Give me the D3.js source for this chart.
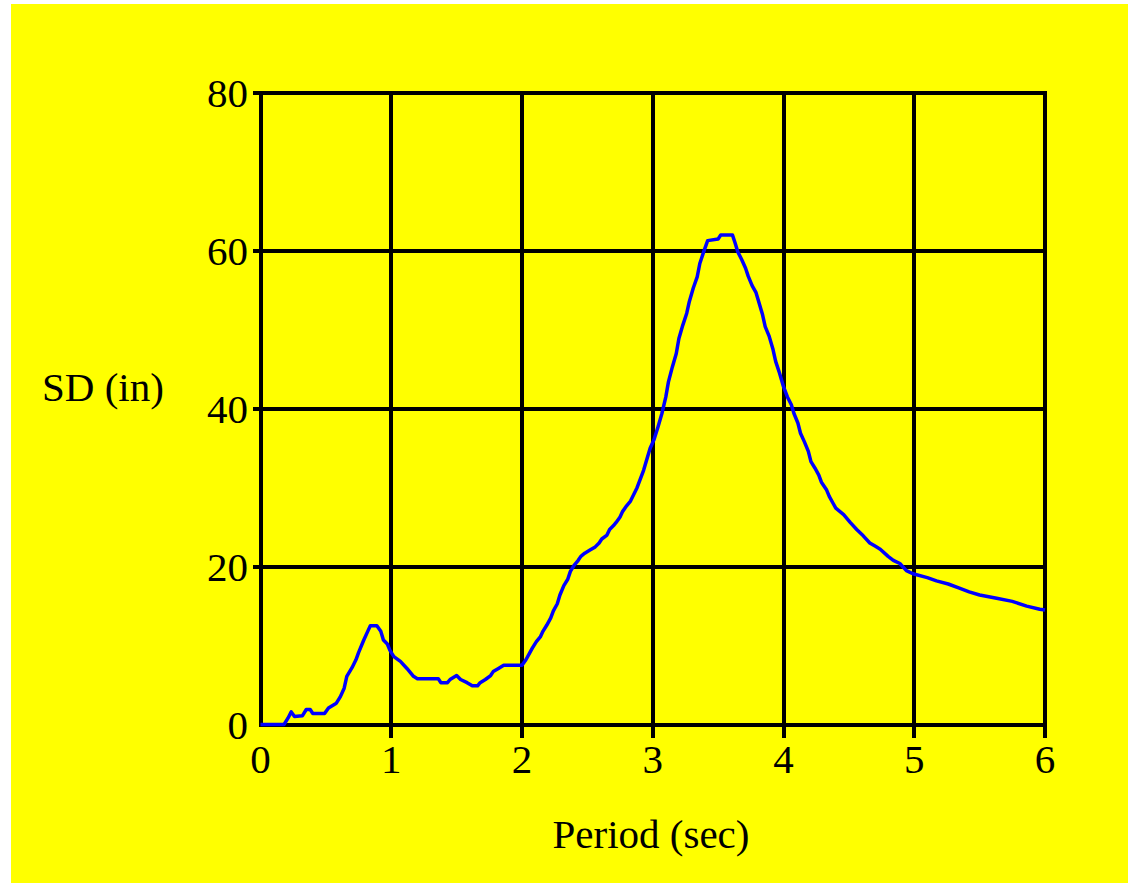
<!DOCTYPE html>
<html>
<head>
<meta charset="utf-8">
<script src="https://cdn.jsdelivr.net/npm/d3@7"></script>
<style>
  body { margin: 0; background: #fff; }
  text { font-family: "Liberation Serif", "Times New Roman", serif; fill: #000; }
</style>
</head>
<body>
<div id="chart"></div>
<script>
// spectral displacement vs period
var periods = [0, 0.18, 0.21, 0.235, 0.26, 0.32, 0.35, 0.38, 0.40, 0.49, 0.52, 0.58, 0.61, 0.64, 0.66, 0.70, 0.73, 0.75, 0.79, 0.82,
    0.84, 0.89, 0.92, 0.94, 0.97, 0.99, 1.02, 1.07, 1.12, 1.17, 1.20, 1.36, 1.38, 1.43, 1.45, 1.50, 1.53, 1.58, 1.62, 1.66,
    1.68, 1.72, 1.76, 1.78, 1.82, 1.86, 2.00, 2.03, 2.06, 2.08, 2.11, 2.14, 2.16, 2.19, 2.22, 2.24, 2.27, 2.29, 2.32, 2.35,
    2.37, 2.40, 2.43, 2.45, 2.48, 2.52, 2.56, 2.59, 2.61, 2.65, 2.67, 2.70, 2.72, 2.75, 2.77, 2.80, 2.83, 2.88, 2.93, 2.98,
    3.01, 3.04, 3.07, 3.10, 3.12, 3.15, 3.18, 3.20, 3.23, 3.26, 3.28, 3.31, 3.34, 3.36, 3.39, 3.42, 3.50, 3.52, 3.61, 3.63,
    3.65, 3.68, 3.71, 3.73, 3.76, 3.79, 3.81, 3.84, 3.86, 3.89, 3.92, 3.94, 3.97, 4.00, 4.03, 4.06, 4.08, 4.11, 4.13, 4.16,
    4.19, 4.21, 4.24, 4.27, 4.29, 4.33, 4.35, 4.38, 4.40, 4.43, 4.46, 4.51, 4.56, 4.61, 4.66, 4.70, 4.74, 4.80, 4.84, 4.89,
    4.94, 4.99, 5.10, 5.17, 5.26, 5.34, 5.42, 5.50, 5.63, 5.75, 5.86, 5.96, 6.00];

var sdValues = [0, 0, 0.8, 1.6, 1.0, 1.1, 1.9, 1.9, 1.4, 1.4, 2.1, 2.7, 3.5, 4.6, 6.1, 7.2, 8.2, 9.1, 10.7, 11.8,
    12.5, 12.5, 11.8, 10.7, 10.2, 9.4, 8.6, 8.0, 7.1, 6.1, 5.8, 5.8, 5.3, 5.3, 5.7, 6.2, 5.7, 5.3, 4.9, 4.9,
    5.3, 5.7, 6.2, 6.7, 7.1, 7.5, 7.5, 8.2, 9.1, 9.7, 10.5, 11.1, 11.8, 12.6, 13.5, 14.4, 15.3, 16.4, 17.6, 18.4,
    19.4, 20.2, 20.8, 21.3, 21.7, 22.1, 22.5, 23.0, 23.5, 24.0, 24.7, 25.2, 25.6, 26.3, 27.0, 27.7, 28.3, 30.0, 32.2, 35.0,
    36.1, 37.7, 39.4, 41.5, 43.4, 45.3, 47.0, 48.9, 50.6, 52.1, 53.6, 55.3, 56.7, 58.4, 59.9, 61.3, 61.5, 62.0, 62.0, 61.0,
    59.9, 58.9, 57.8, 56.8, 55.6, 54.7, 53.6, 51.9, 50.4, 49.2, 47.5, 46.0, 44.5, 42.8, 41.5, 40.5, 39.4, 38.2, 36.9, 35.8,
    34.6, 33.3, 32.5, 31.6, 30.7, 29.7, 28.9, 28.0, 27.4, 27.0, 26.6, 25.6, 24.7, 23.9, 23.0, 22.6, 22.2, 21.3, 20.8, 20.4,
    19.5, 19.1, 18.6, 18.2, 17.8, 17.3, 16.8, 16.4, 16.0, 15.6, 15.0, 14.6, 14.5];

var xTicks = [0, 1, 2, 3, 4, 5, 6];
var yTicks = [0, 20, 40, 60, 80];

var W = 1128, H = 883;
var svg = d3.select("#chart").append("svg").attr("width", W).attr("height", H);

svg.append("rect")
    .attr("x", 11).attr("y", 4)
    .attr("width", W - 11).attr("height", H - 4)
    .style("fill", "#ffff00");

var x = d3.scaleLinear().domain([0, 6]).range([260.5, 1045]);
var y = d3.scaleLinear().domain([0, 80]).range([724.5, 93]);

// grid, with short stubs past the axes
var grid = svg.append("g").attr("shape-rendering", "crispEdges")
    .style("stroke", "#000").style("stroke-width", 4);

grid.selectAll("line.v").data(xTicks).enter().append("line")
    .attr("class", "v")
    .attr("x1", function (d) { return x(d); })
    .attr("x2", function (d) { return x(d); })
    .attr("y1", y(80) - 2)
    .attr("y2", function (d) { return d === 0 ? y(0) + 2 : y(0) + 13; });

grid.selectAll("line.h").data(yTicks).enter().append("line")
    .attr("class", "h")
    .attr("y1", function (d) { return y(d); })
    .attr("y2", function (d) { return y(d); })
    .attr("x1", function (d) { return d === 0 ? x(0) - 2 : x(0) - 8; })
    .attr("x2", x(6) + 2);

// tick labels
svg.append("g").selectAll("text").data(xTicks).enter().append("text")
    .attr("x", function (d) { return x(d); })
    .attr("y", 759)
    .attr("text-anchor", "middle")
    .attr("dominant-baseline", "central")
    .style("font-size", "41px")
    .text(function (d) { return d; });

svg.append("g").selectAll("text").data(yTicks).enter().append("text")
    .attr("x", 248)
    .attr("y", function (d) { return y(d); })
    .attr("text-anchor", "end")
    .attr("dominant-baseline", "central")
    .style("font-size", "41px")
    .text(function (d) { return d; });

// axis titles
svg.append("text")
    .attr("x", 651).attr("y", 848)
    .attr("text-anchor", "middle")
    .style("font-size", "41px")
    .text("Period (sec)");

svg.append("text")
    .attr("x", 42).attr("y", 401)
    .style("font-size", "41px")
    .text("SD (in)");

// curve
var line = d3.line()
    .x(function (d) { return x(d); })
    .y(function (d, i) { return y(sdValues[i]); });

svg.append("path")
    .datum(periods)
    .attr("d", line)
    .style("fill", "none")
    .style("stroke", "#0000ff")
    .style("stroke-width", 3.5)
    .style("stroke-linejoin", "round");
</script>
</body>
</html>
